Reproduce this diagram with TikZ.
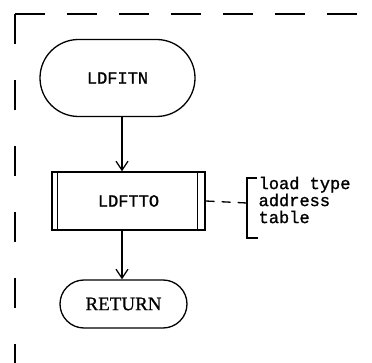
\documentclass[tikz,border=0pt]{standalone}
\usepackage{fontspec}
\newfontfamily\monof[FakeBold=1.3]{Liberation Mono}
\newfontfamily\seriff[FakeBold=0.8]{Liberation Serif}
\usetikzlibrary{arrows.meta,shapes.misc}
\begin{document}
\begin{tikzpicture}[x=1pt,y=-1pt,line width=1.3pt,
  term/.style={draw,rounded rectangle,inner sep=0pt},
  procbox/.style={draw,rectangle,inner sep=0pt},
  arr/.style={-{Straight Barb[length=9pt,width=12pt,line width=1.3pt]}},
  monotext/.style={font=\monof\fontsize{17}{17}\selectfont},
  annottext/.style={font=\monof\fontsize{17}{17}\selectfont},
  bordline/.style={line width=1.4pt,dash pattern=on 30pt off 22pt}]
\useasboundingbox (0,0) rectangle (372,363);
% frame
\coordinate (corner) at (15,14);
\coordinate (topend) at (372,14);
\coordinate (botend) at (15,363);
\draw[bordline] (corner) -- (topend);
\draw[bordline,dash pattern=on 30pt off 36pt] (corner) -- (botend);
% nodes
\node[term,monotext,minimum width=155pt,minimum height=77pt] (a) at (117.5,78) {LDFITN};
\node[procbox,monotext,minimum width=153pt,minimum height=58pt] (b) at (128.5,201) {LDFTTO};
\draw ([xshift=6pt]b.north west) -- ([xshift=6pt]b.south west);
\draw ([xshift=-8pt]b.north east) -- ([xshift=-8pt]b.south east);
\node[term,font=\seriff\fontsize{19}{19}\selectfont,minimum width=127pt,minimum height=48pt] (c) at (123.5,304) {RETURN};
% connectors
\coordinate (ax) at (122,0);
\draw[arr] (ax |- a.south) -- (ax |- b.north);
\draw[arr] (ax |- b.south) -- (ax |- c.north);
% annotation
\coordinate (br) at (247,203);
\draw[dash pattern=on 9pt off 7pt] (b.east) -- (br);
\draw (257,178) -- (247,178) -- (247,238) -- (258,238);
\node[annottext,anchor=west,align=left,inner sep=0pt] (t) at (258,200) {load type\\address\\table};
\end{tikzpicture}
\end{document}
